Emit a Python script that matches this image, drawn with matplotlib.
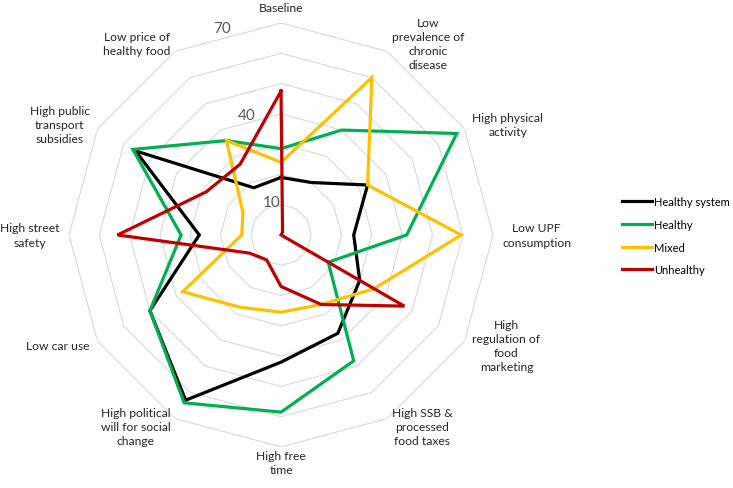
import matplotlib
matplotlib.use("Agg")
import matplotlib.pyplot as plt
import numpy as np

plt.rcParams['font.family'] = ['Lato', 'DejaVu Sans']

categories = ["Baseline",
              "Low\nprevalence of\nchronic\ndisease",
              "High physical\nactivity",
              "Low UPF\nconsumption",
              "High\nregulation of\nfood\nmarketing",
              "High SSB &\nprocessed\nfood taxes",
              "High free\ntime",
              "High political\nwill for social\nchange",
              "Low car use",
              "High street\nsafety",
              "High public\ntransport\nsubsidies",
              "Low price of\nhealthy food"]

healthy_system = [19, 20, 33, 24, 30, 37.5, 42, 63, 50, 27, 55.5, 18]
healthy = [28.5, 40, 67, 41.5, 18, 48, 58.5, 64, 50, 33, 56.5, 36]
mixed = [24, 60, 33, 59.5, 35.5, 26.5, 25.5, 27.5, 37.5, 13, 14.5, 36]
unhealthy = [47.5, 1, 0, 0, 47, 26.5, 17, 9.5, 12, 54, 28.5, 27]

series_names = ["Healthy system", "Healthy", "Mixed", "Unhealthy"]
series_colors = ["#000000", "#00B050", "#FFC000", "#C00000"]

grid_levels = [10, 20, 30, 40, 50, 60, 70]
tick_labels = [10, 40, 70]

fig = plt.figure(figsize=(7.33, 4.89), dpi=100)
ax = fig.add_axes([0.0942, 0.0839, 0.5784, 0.8671], projection='polar')
ax.set_theta_offset(np.pi / 2)
ax.set_theta_direction(-1)

n = len(categories)
angles = np.linspace(0, 2 * np.pi, n, endpoint=False)
closed = np.append(angles, angles[0])

# polygon grid like excel
for lev in grid_levels:
    ax.plot(closed, [lev] * (n + 1), color='#d9d9d9', lw=0.8, zorder=1)

data = [healthy_system, healthy, mixed, unhealthy]
for vals, name, col in zip(data, series_names, series_colors):
    v = list(vals) + [vals[0]]
    ax.plot(closed, v, color=col, lw=2.3, label=name, zorder=3,
            solid_joinstyle='miter', clip_on=False)

ax.set_ylim(0, 70)
ax.grid(False)
ax.set_xticks([])
ax.set_yticks([])
ax.spines['polar'].set_visible(False)

for t in tick_labels:
    ax.text(np.deg2rad(-16), t + 1.2, str(t), ha='center', va='center',
            fontsize=11, color='#595959')

for ang, lab in zip(angles, categories):
    s = np.sin(ang)
    if abs(s) < 0.01:
        ha = 'center'
        r = 75
    elif s > 0:
        ha = 'left'
        r = 73
    else:
        ha = 'right'
        r = 73
    ax.text(ang, r, lab, ha=ha, va='center', multialignment='center',
            fontsize=8.7, color='#262626', linespacing=1.35)

fig.legend(loc='center left', bbox_to_anchor=(0.848, 0.516), frameon=False,
           fontsize=8, handlelength=2.7, handletextpad=0.2,
           labelspacing=1.05, borderpad=0, borderaxespad=0)

fig.savefig('out.png', dpi=100)
